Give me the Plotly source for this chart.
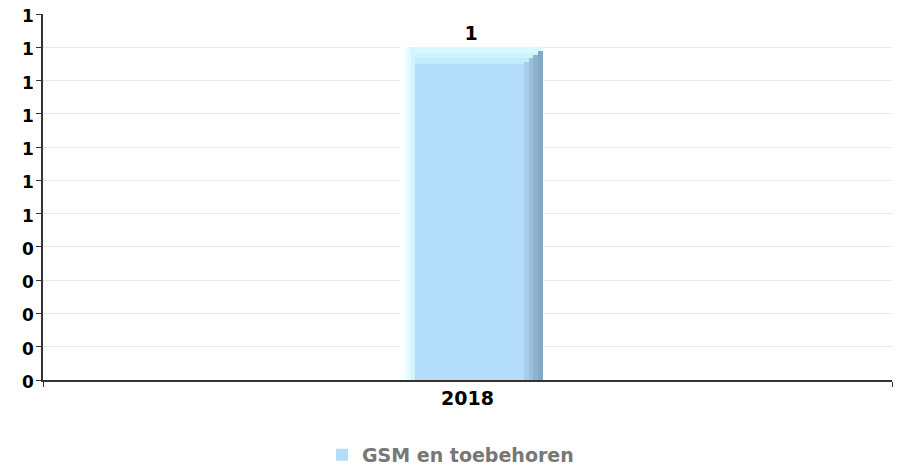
import plotly.graph_objects as go

# ---- data ----
categories = ["2018"]
values = [1]
series_name = "GSM en toebehoren"
y_tick_values = [0, 0.1, 0.2, 0.3, 0.4, 0.5, 0.6, 0.7, 0.8, 0.9, 1.0, 1.1]
y_tick_labels = ["0", "0", "0", "0", "0", "1", "1", "1", "1", "1", "1", "1"]

# ---- style ----
FONT = "DejaVu Sans"
FS = 19
FS_Y = 17
BODY = "#b3ddfb"
TOP_DEPTH = 0.05          # depth of the top bevel (data units)
LEFT_OFF, LEFT_W = -0.0795, 0.0165
BODY_OFF, BODY_W = -0.063, 0.1296
RIGHT_OFF, RIGHT_W = 0.0666, 0.0212
left_shades = ["#fbffff", "#effeff", "#e0faff", "#d2f5fd"]
top_shades = ["#d6fbff", "#cdf4fd", "#c2ebfc"]
right_shades = ["#a8cde8", "#9bc0db", "#8eb3ce", "#84a9c5"]

fig = go.Figure()

# body
fig.add_trace(go.Bar(
    x=categories, y=[v - TOP_DEPTH for v in values],
    offset=BODY_OFF, width=BODY_W, marker=dict(color=BODY, line=dict(width=0)),
    name=series_name, showlegend=True, legendgroup="s", hoverinfo="skip"))

# top bevel (vertical gradient); the topmost slice carries the value label
n = len(top_shades)
for i, c in enumerate(top_shades):
    seg = TOP_DEPTH / n
    kw = {}
    if i == 0:
        kw = dict(text=[str(v) for v in values], textposition="outside",
                  constraintext="none", cliponaxis=False,
                  textfont=dict(family=FONT, size=FS, color="#000000", weight="bold"))
    fig.add_trace(go.Bar(
        x=categories, y=[seg] * len(values),
        base=[v - (i + 1) * seg for v in values],
        offset=LEFT_OFF, width=BODY_OFF + BODY_W + RIGHT_W - LEFT_OFF,
        marker=dict(color=c, line=dict(width=0)),
        showlegend=False, legendgroup="s", hoverinfo="skip", **kw))

# left bevel (horizontal gradient)
n = len(left_shades)
for i, c in enumerate(left_shades):
    fig.add_trace(go.Bar(
        x=categories, y=values,
        offset=LEFT_OFF + i * LEFT_W / n, width=LEFT_W / n + 0.0008,
        marker=dict(color=c, line=dict(width=0)),
        showlegend=False, legendgroup="s", hoverinfo="skip"))

# right bevel with a slanted top
n = len(right_shades)
for i, c in enumerate(right_shades):
    fig.add_trace(go.Bar(
        x=categories, y=[v - TOP_DEPTH * (n - i) / (n + 0.5) for v in values],
        offset=RIGHT_OFF + i * RIGHT_W / n, width=RIGHT_W / n + 0.0008,
        marker=dict(color=c, line=dict(width=0)),
        showlegend=False, legendgroup="s", hoverinfo="skip"))

# the page shows the figure shifted by an 8px body margin; margins compensate
fig.update_layout(
    width=901, height=465,
    margin=dict(l=35, r=17, t=6, b=93),
    paper_bgcolor="white", plot_bgcolor="white",
    barmode="overlay", bargap=0,
    font=dict(family=FONT, size=FS, color="#000000"),
    showlegend=True,
    legend=dict(orientation="h", x=0.48, xanchor="center",
                yref="container", y=0.039, yanchor="middle",
                font=dict(family=FONT, size=FS, color="#777777", weight="bold")),
)
fig.update_xaxes(
    type="category", range=[-0.5, 0.5], automargin=False,
    showline=True, linecolor="#333333", linewidth=1.5, layer="below traces",
    ticks="outside", tickson="boundaries", ticklen=5, tickcolor="#333333",
    tickfont=dict(family=FONT, size=FS, color="#000000", weight="bold"),
    showgrid=False, zeroline=False)
fig.update_yaxes(
    range=[0, 1.1], tickmode="array", tickvals=y_tick_values, ticktext=y_tick_labels,
    automargin=False, ticklabeloverflow="allow",
    ticklabelstandoff=-1, ticklabelshift=2,
    showline=True, linecolor="#333333", linewidth=1.5, layer="below traces",
    ticks="outside", ticklen=5, tickcolor="#333333",
    tickfont=dict(family=FONT, size=FS_Y, color="#000000", weight="bold"),
    showgrid=True, gridcolor="#e8e8e8", gridwidth=1, zeroline=False)

fig.write_html("out.html")
